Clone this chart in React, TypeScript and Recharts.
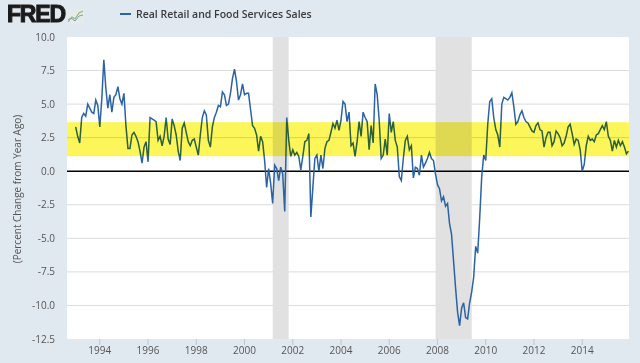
import React from 'react'
import { CartesianGrid, Line, LineChart, ReferenceArea, ReferenceLine, XAxis, YAxis } from 'recharts'

// Real Retail and Food Services Sales, percent change from a year ago, monthly from Jan 1993
const startYear = 1993

const yoy1990s = [
  3.3, 2.6, 2.1, 4.0, 4.3, 4.1, 5.0, 4.7, 4.4, 4.3, 5.3, 4.9,
  3.3, 5.4, 8.3, 6.2, 4.7, 5.7, 4.4, 5.5, 5.7, 6.3, 5.4, 5.0,
  5.8, 3.4, 1.7, 1.7, 2.7, 2.9, 2.6, 2.2, 1.5, 0.6, 1.8, 2.2,
  0.7, 4.0, 3.9, 3.8, 3.7, 2.3, 2.6, 1.9, 2.6, 4.0, 2.4, 2.0,
  3.9, 3.4, 2.7, 1.5, 0.8, 3.2, 3.6, 2.9, 2.2, 1.9, 2.3, 2.4,
  1.8, 1.2, 2.7, 4.0, 4.5, 4.2, 2.3, 1.8, 3.3, 4.0, 4.4, 4.9,
  4.8, 5.9, 5.7, 4.9, 5.0, 5.8, 6.9, 7.6, 6.7, 5.3, 5.7, 6.5
]

const yoy2000s = [
  5.7, 5.8, 5.8, 4.6, 3.4, 3.2, 2.7, 1.5, 2.6, 2.2, 0.8, -1.2,
  0.2, -0.9, -2.4, 0.45, 0.2, -0.7, 0.3, -0.2, -3.0, 4.0, 2.3, 1.1,
  1.6, 1.2, 1.4, 1.1, 0.1, 1.1, 2.2, 2.3, 2.8, -3.4, -1.2, 0.95,
  1.2, 0.0, 1.2, 0.2, 1.7, 2.2, 2.3, 2.9, 3.55, 3.2, 3.8, 3.05,
  3.8, 5.2, 5.0, 3.7, 4.4, 1.9, 2.1, 1.1, 2.2, 3.7, 2.6, 4.4,
  4.0, 3.7, 1.6, 3.4, 2.1, 6.5, 5.7, 3.8, 0.95, 1.2, 2.4, 1.2,
  4.3, 2.9, 3.7, 2.3, 1.8, -0.4, -0.7, 0.95, 2.3, 2.6, 1.6, 1.9,
  -0.5, 0.3, 0.2, -0.3, 1.2, 0.3, 0.6, 0.95, 1.4, 0.95, 0.8, -0.2,
  -1.0, -1.3, -2.2, -1.9, -2.6, -2.4, -3.9, -4.7, -6.7, -8.7, -10.5, -11.5,
  -10.2, -9.8, -10.9, -11.0, -9.8, -9.0, -7.9, -5.6, -6.1, -3.5, -0.4, 1.2
]

const yoy2010s = [
  0.8, 3.5, 5.2, 5.4, 4.0, 3.1, 2.7, 1.8, 5.0, 5.5, 5.4, 5.3,
  5.5, 5.85, 4.8, 3.5, 3.7, 4.2, 4.5, 4.0, 3.7, 3.6, 3.3, 3.0,
  2.9, 3.4, 3.6, 3.1, 3.0, 1.8, 2.5, 2.9, 2.9, 1.9, 2.2, 3.0,
  2.8, 2.5, 1.9, 2.1, 2.6, 3.3, 3.5, 2.8, 2.0, 2.4, 2.3, 1.6,
  0.0, 0.5, 1.9, 2.6, 2.3, 2.4, 2.2, 2.7, 2.8, 3.1, 3.4, 3.1,
  3.7, 2.6, 2.3, 1.5, 2.3, 1.8, 2.3, 1.9, 2.2, 1.8, 1.3, 1.5
]

const yearTicks = [1994, 1996, 1998, 2000, 2002, 2004, 2006, 2008, 2010, 2012, 2014]
const valueTicks = [-12.5, -10, -7.5, -5, -2.5, 0, 2.5, 5, 7.5, 10]
const recessionStarts = [2001.17, 2007.92]
const recessionEnds = [2001.83, 2009.42]
const bandLow = 1.12
const bandHigh = 3.65

const chartData = [...yoy1990s, ...yoy2000s, ...yoy2010s].map((value, i) => ({
  date: startYear + i / 12,
  value
}))

const FONT = '"Open Sans", "DejaVu Sans", sans-serif'

interface BandProps {
  x?: number
  y?: number
  width?: number
  height?: number
}

// yellow band multiplies over the line, so blue turns dark green inside it
function renderBand(props: BandProps) {
  const { x = 0, y = 0, width = 0, height = 0 } = props
  return (
    <rect x={x} y={y} width={width} height={height} fill="#fcf65a" style={{ mixBlendMode: 'multiply' }} />
  )
}

function FredLogo() {
  return (
    <div style={{ position: 'absolute', left: 7, top: 1, display: 'flex', alignItems: 'center' }}>
      <span
        style={{
          fontFamily: '"Liberation Sans", Arial, sans-serif',
          fontWeight: 900,
          fontSize: 23,
          letterSpacing: -1.2,
          color: '#1a1a1a',
          WebkitTextStroke: '1px #1a1a1a'
        }}
      >
        FRED
      </span>
      <svg width={17} height={15} style={{ marginLeft: 2, marginTop: 3 }}>
        <rect x={0} y={0} width={17} height={15} fill="#e6ebe9" />
        <polyline points="1,13 5,8 8,10 12,4 16,2" fill="none" stroke="#8fbf6a" strokeWidth={1.2} />
        <polyline points="1,11 4,9 8,12 12,7 16,6" fill="none" stroke="#7a9cc6" strokeWidth={1} />
      </svg>
    </div>
  )
}

export default function App() {
  return (
    <div
      style={{
        position: 'absolute',
        left: 0,
        top: 0,
        width: 640,
        height: 363,
        background: '#e1e9f0',
        fontFamily: FONT,
        overflow: 'hidden'
      }}
    >
      <FredLogo />
      <div style={{ position: 'absolute', left: 120, top: 5, display: 'flex', alignItems: 'center', height: 17 }}>
        <span style={{ display: 'inline-block', width: 11, height: 2, background: '#2b63a4', marginRight: 5 }} />
        <span style={{ fontSize: 10.5, fontWeight: 600, color: '#3a3a3a', whiteSpace: 'nowrap' }}>
          Real Retail and Food Services Sales
        </span>
      </div>
      <div
        style={{
          position: 'absolute',
          left: 16.5,
          top: 189,
          transform: 'translate(-50%, -50%) rotate(-90deg)',
          fontSize: 10,
          color: '#555',
          whiteSpace: 'nowrap'
        }}
      >
        (Percent Change from Year Ago)
      </div>
      <LineChart
        width={640}
        height={363}
        data={chartData}
        margin={{ top: 37, right: 11, bottom: 0, left: 17 }}
        style={{ position: 'absolute', left: 0, top: 0 }}
      >
        <CartesianGrid
          vertical={false}
          fill="#ffffff"
          stroke="#dcdcdc"
          horizontalValues={[-10, -7.5, -5, -2.5, 2.5, 5, 7.5]}
        />
        <XAxis
          dataKey="date"
          type="number"
          domain={[1992.64, 2015.94]}
          ticks={yearTicks}
          allowDataOverflow
          height={24}
          axisLine={false}
          tickLine={{ stroke: '#b9c8d6' }}
          tickSize={6}
          tickMargin={2}
          tick={{ fontSize: 10, fill: '#555', fontFamily: FONT }}
        />
        <YAxis
          type="number"
          domain={[-12.5, 10]}
          ticks={valueTicks}
          allowDataOverflow
          width={50}
          axisLine={false}
          tickLine={false}
          tickSize={0}
          tickMargin={12}
          tickFormatter={(v: number) => v.toFixed(1)}
          tick={{ fontSize: 10, fill: '#555', fontFamily: FONT }}
        />
        {recessionStarts.map((start, i) => (
          <ReferenceArea
            key={start}
            x1={start}
            x2={recessionEnds[i]}
            fill="#e1e1e1"
            fillOpacity={1}
            stroke="none"
            ifOverflow="hidden"
          />
        ))}
        <ReferenceLine y={0} stroke="#000000" strokeWidth={1.5} />
        <Line
          type="linear"
          dataKey="value"
          stroke="#2b63a4"
          strokeWidth={1.5}
          dot={false}
          isAnimationActive={false}
        />
        <ReferenceArea y1={bandLow} y2={bandHigh} shape={renderBand} zIndex={450} ifOverflow="hidden" />
      </LineChart>
    </div>
  )
}
